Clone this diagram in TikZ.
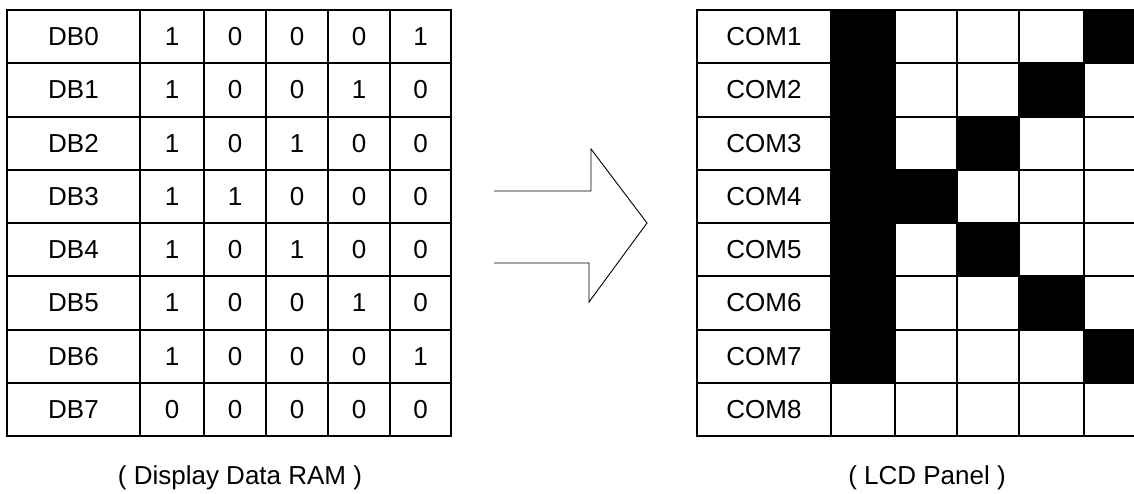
\documentclass[tikz,border=0pt]{standalone}
\usepackage{fontspec}
\setmainfont{Liberation Sans}
\begin{document}
\begin{tikzpicture}[x=1pt,y=-1pt,
  gridline/.style={line width=2pt,line cap=rect},
  txt/.style={font=\fontsize{26}{30}\selectfont,inner sep=0pt},
  arrowshape/.style={line width=0.9pt,line join=miter}]
\useasboundingbox (0,0) rectangle (1134,493);
\def\LX{{7,140,204,266,328,390,451}}
\def\RX{{697,831,895,957,1019,1084,1147}}
% LCD black pixels
\begin{scope}
\clip (0,0) rectangle (1134,493);
\foreach \bits [count=\i from 0] in {{1,0,0,0,1},{1,0,0,1,0},{1,0,1,0,0},{1,1,0,0,0},{1,0,1,0,0},{1,0,0,1,0},{1,0,0,0,1},{0,0,0,0,0}}{
  \foreach \bit [count=\j from 1] in \bits {
    \ifnum\bit=1
      \pgfmathsetmacro\xa{\RX[\j]}
      \pgfmathsetmacro\xb{\RX[\j+1]}
      \pgfmathsetmacro\ya{10+53.25*\i}
      \pgfmathsetmacro\yb{10+53.25*(\i+1)}
      \fill[black] (\xa,\ya) rectangle (\xb,\yb);
    \fi
  }
}
\end{scope}
% left table grid
\foreach \i in {0,...,8}{
  \pgfmathsetmacro\yy{10+53.25*\i}
  \draw[gridline] (7,\yy) -- (451,\yy);
}
\foreach \j in {0,...,6}{
  \pgfmathsetmacro\xx{\LX[\j]}
  \draw[gridline] (\xx,10) -- (\xx,436);
}
% right table grid
\foreach \i in {0,...,8}{
  \pgfmathsetmacro\yy{10+53.25*\i}
  \draw[gridline] (697,\yy) -- (1134,\yy);
}
\foreach \j in {0,...,5}{
  \pgfmathsetmacro\xx{\RX[\j]}
  \draw[gridline] (\xx,10) -- (\xx,436);
}
% table texts
\foreach \a/\b/\c/\d/\e [count=\i from 0] in {1/0/0/0/1,1/0/0/1/0,1/0/1/0/0,1/1/0/0/0,1/0/1/0/0,1/0/0/1/0,1/0/0/0/1,0/0/0/0/0}{
  \pgfmathsetmacro\yc{10+53.25*(\i+0.5)}
  \node[txt] (db\i) at (73.5,\yc) {DB\i};
  \node[txt] (v\i-1) at (172,\yc) {\a};
  \node[txt] (v\i-2) at (235,\yc) {\b};
  \node[txt] (v\i-3) at (297,\yc) {\c};
  \node[txt] (v\i-4) at (359,\yc) {\d};
  \node[txt] (v\i-5) at (420.5,\yc) {\e};
  \pgfmathtruncatemacro\k{\i+1}
  \node[txt] (com\k) at (764,\yc) {COM\k};
}
% arrow
\draw[arrowshape] (494,191) -- (591,191) -- (591,149) -- (647,223) -- (589,302) -- (589,263) -- (494,263);
% captions
\node[txt,anchor=base] (ramlabel) at (240,484) {( Display Data RAM )};
\node[txt,anchor=base] (lcdlabel) at (927,484) {( LCD Panel )};
\end{tikzpicture}
\end{document}
